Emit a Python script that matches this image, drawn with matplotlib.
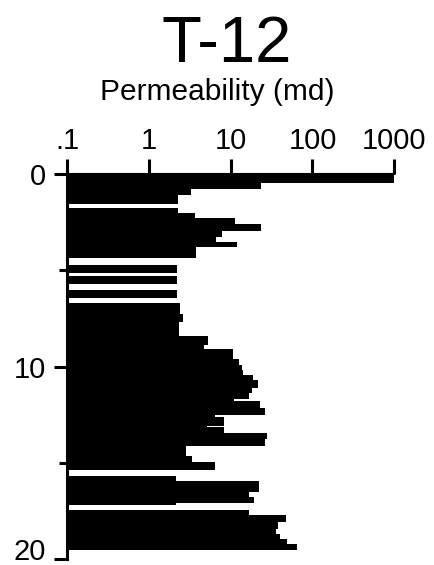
import matplotlib
matplotlib.use("Agg")
import matplotlib.pyplot as plt
from matplotlib.ticker import NullLocator, FixedLocator
from matplotlib.transforms import ScaledTranslation

plt.rcParams['font.family'] = ['Liberation Sans', 'DejaVu Sans']

# depth intervals (top, base) and permeability (md)
depth_top = [0.00, 0.44, 0.77, 1.10, 1.73, 2.03, 2.29, 2.60, 2.93, 3.25, 3.51, 3.80,
             4.72, 5.30, 6.03, 6.69, 7.24, 7.68, 8.42, 8.89, 9.06, 9.58, 9.90, 10.16,
             10.45, 10.71, 11.09, 11.37, 11.66, 11.80, 12.15, 12.50, 12.64, 13.06, 13.15,
             13.44, 13.75, 14.10, 14.66, 14.97, 15.66, 15.92, 16.53, 16.79, 17.10,
             17.45, 17.69, 18.09, 18.44, 18.70, 18.96, 19.22]
depth_base = [0.44, 0.77, 1.10, 1.56, 2.03, 2.29, 2.60, 2.93, 3.25, 3.51, 3.80, 4.37,
              5.13, 5.71, 6.43, 7.24, 7.68, 8.42, 8.89, 9.06, 9.58, 9.90, 10.16, 10.45,
              10.71, 11.09, 11.37, 11.66, 11.80, 12.15, 12.50, 12.64, 13.06, 13.15, 13.44,
              13.75, 14.10, 14.66, 14.97, 15.37, 15.92, 16.53, 16.79, 17.10, 17.17,
              17.69, 18.09, 18.44, 18.70, 18.96, 19.22, 19.53]
perm = [1000, 23.4, 3.27, 2.25, 2.25, 3.66, 11.25, 23.8, 7.95, 6.7, 12.1, 3.72,
        2.2, 2.2, 2.2, 2.4, 2.58, 2.31, 5.22, 4.71, 10.8, 12.6, 13.6, 14.2,
        18.5, 21.3, 18.0, 16.7, 10.9, 22.7, 26.2, 6.4, 8.26, 5.17, 8.26,
        27.7, 26.2, 2.81, 3.33, 6.5, 2.14, 22.1, 16.8, 19.2, 2.14,
        16.8, 47.2, 38.4, 36.3, 40.6, 49.0, 65.6]

x_ticks = [0.1, 1, 10, 100, 1000]
x_ticklabels = ['.1', '1', '10', '100', '1000']
y_ticks = [0, 10, 20]
y_minor = [5, 15]
x_min = 0.1

fig = plt.figure(figsize=(4.34, 5.65), dpi=100)
ax = fig.add_axes([67 / 434, 1 - 559 / 565, (394.3 - 67) / 434, (559 - 174.3) / 565])

heights = [b - t for t, b in zip(depth_top, depth_base)]
widths = [p - x_min for p in perm]
ax.barh(depth_top, widths, height=heights, left=x_min, align='edge',
        color='black', edgecolor='none', linewidth=0, antialiased=False)

ax.set_xscale('log')
ax.set_xlim(0.1, 1000)
ax.set_ylim(20, 0)

ax.xaxis.set_major_locator(FixedLocator(x_ticks))
ax.set_xticklabels(x_ticklabels)
ax.xaxis.set_minor_locator(NullLocator())
ax.xaxis.tick_top()
ax.tick_params(axis='x', which='major', direction='out', length=11, width=2.2,
               labelsize=21, pad=3, top=True, bottom=False)

ax.set_yticks(y_ticks)
ax.set_yticks(y_minor, minor=True)
ax.tick_params(axis='y', which='major', direction='out', length=9.4, width=2.2,
               labelsize=21, pad=6)
ax.tick_params(axis='y', which='minor', direction='out', length=5.5, width=2.2)

for s in ['right', 'bottom']:
    ax.spines[s].set_visible(False)
ax.spines['left'].set_linewidth(2.2)
ax.spines['top'].set_linewidth(1.5)

# nudge the bottom depth label up so it stays inside the figure, as in the original
last = ax.get_yticklabels()[-1]
last.set_transform(last.get_transform() + ScaledTranslation(0, 0.10, fig.dpi_scale_trans))

ax.xaxis.set_label_position('top')
ax.set_xlabel('Permeability (md)', fontsize=21.5)
ax.xaxis.set_label_coords((217.5 - 67) / 327.3, 1 + (174.3 - 100) / 384.7)
ax.xaxis.label.set_verticalalignment('baseline')

ax.set_title('T-12', fontsize=47, x=(226.7 - 67) / 327.3,
             y=1 + (174.3 - 61.7) / 384.7, va='baseline', pad=0)

fig.savefig('out.png', dpi=100)
